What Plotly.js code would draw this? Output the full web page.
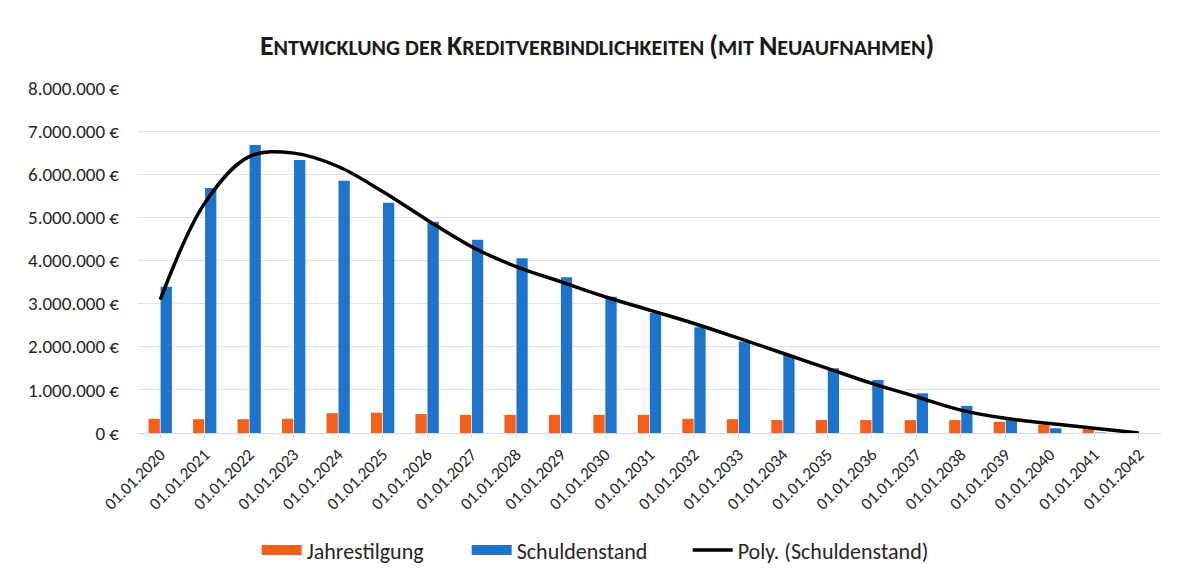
<!DOCTYPE html>
<html>
<head>
<meta charset="utf-8">
<script src="https://cdn.plot.ly/plotly-3.0.1.min.js"></script>
<style>
  html, body { margin: 0; padding: 0; background: #fff; }
  #plot { width: 1187px; height: 584px; }
</style>
</head>
<body>
<div id="plot"></div>
<script>
// categories (x axis)
let dates = ['01.01.2020', '01.01.2021', '01.01.2022', '01.01.2023', '01.01.2024', '01.01.2025',
    '01.01.2026', '01.01.2027', '01.01.2028', '01.01.2029', '01.01.2030', '01.01.2031',
    '01.01.2032', '01.01.2033', '01.01.2034', '01.01.2035', '01.01.2036', '01.01.2037',
    '01.01.2038', '01.01.2039', '01.01.2040', '01.01.2041', '01.01.2042']

// yearly repayment (orange bars)
let jahrestilgung = [330000, 320000, 320000, 330000, 460000, 470000, 440000, 420000, 420000,
    420000, 420000, 420000, 330000, 320000, 300000, 300000, 300000, 300000, 300000, 260000,
    190000, 90000, 10000]

// outstanding debt (blue bars)
let schuldenstand = [3390000, 5680000, 6680000, 6330000, 5850000, 5340000, 4900000, 4480000,
    4050000, 3610000, 3160000, 2780000, 2450000, 2120000, 1810000, 1500000, 1230000, 920000,
    630000, 300000, 110000, 10000, 0]

// polynomial trend line at each category
let polyTrend = [3090000, 5330000, 6410000, 6490000, 6180000, 5600000, 4940000, 4320000,
    3860000, 3510000, 3160000, 2850000, 2540000, 2200000, 1850000, 1500000, 1150000, 840000,
    530000, 340000, 220000, 110000, 0]

// y axis ticks
let yTicks = [0, 1000000, 2000000, 3000000, 4000000, 5000000, 6000000, 7000000, 8000000]
// german number format: 8.000.000 €
let yLabels = yTicks.map(v => String(v).replace(/\B(?=(\d{3})+(?!\d))/g, '.') + ' €')

let fontFamily = 'Carlito, Lato, "Open Sans", sans-serif'
let orange = '#f2601e'
let blue = '#1f74c9'

let traceTilgung = {
    x: dates,
    y: jahrestilgung,
    name: 'Jahrestilgung',
    type: 'bar',
    marker: {color: orange},
    showlegend: false
}

let traceSchulden = {
    x: dates,
    y: schuldenstand,
    name: 'Schuldenstand',
    type: 'bar',
    marker: {color: blue},
    showlegend: false
}

let tracePoly = {
    x: dates,
    y: polyTrend,
    name: 'Poly. (Schuldenstand)',
    type: 'scatter',
    mode: 'lines',
    line: {color: '#000000', width: 3.5, shape: 'spline', smoothing: 1},
    showlegend: false
}

// legend entries with wide flat swatches like the excel legend
let legendTilgung = {x: [null], y: [null], name: 'Jahrestilgung', type: 'scatter', mode: 'lines',
    line: {color: orange, width: 10}, legendwidth: 155}
let legendSchulden = {x: [null], y: [null], name: 'Schuldenstand', type: 'scatter', mode: 'lines',
    line: {color: blue, width: 10}, legendwidth: 166}
let legendPoly = {x: [null], y: [null], name: 'Poly. (Schuldenstand)', type: 'scatter', mode: 'lines',
    line: {color: '#000000', width: 3.5}}

let data = [traceTilgung, traceSchulden, tracePoly, legendTilgung, legendSchulden, legendPoly]

// small caps title done by hand with spans
let s = t => "<span style='font-size:22px'>" + t + "</span>"
let titleText = 'E' + s('NTWICKLUNG DER ') + 'K' + s('REDITVERBINDLICHKEITEN ') + '(' +
    s('MIT ') + 'N' + s('EUAUFNAHMEN') + ')'

let layout = {
    width: 1187,
    height: 584,
    paper_bgcolor: '#ffffff',
    plot_bgcolor: '#ffffff',
    font: {family: fontFamily, color: '#262626'},
    title: {
        text: titleText,
        font: {family: fontFamily, size: 28, color: '#1a1a1a', weight: 'bold'},
        x: 0.503,
        xanchor: 'center',
        y: 0.923,
        yanchor: 'middle'
    },
    margin: {l: 138, r: 26, t: 88, b: 151},
    barmode: 'group',
    bargap: 0.46,
    bargroupgap: 0.06,
    xaxis: {
        type: 'category',
        categoryorder: 'array',
        categoryarray: dates,
        tickangle: -45,
        tickfont: {size: 17, color: '#262626'},
        showgrid: false,
        showline: true,
        linecolor: '#d9d9d9',
        linewidth: 1,
        ticks: 'outside',
        ticklen: 4,
        tickcolor: '#d9d9d9'
    },
    yaxis: {
        range: [0, 8000000],
        tickmode: 'array',
        tickvals: yTicks,
        ticktext: yLabels,
        tickfont: {size: 19, color: '#262626'},
        showgrid: true,
        gridcolor: '#e3e3e3',
        gridwidth: 1,
        zeroline: false,
        showline: false,
        ticks: '',
        ticklabelstandoff: 18
    },
    legend: {
        orientation: 'h',
        x: 0.116,
        xanchor: 'left',
        y: -0.34,
        yanchor: 'middle',
        font: {size: 22, color: '#262626'},
        traceorder: 'normal',
        itemwidth: 40
    },
    showlegend: true
}

Plotly.newPlot('plot', data, layout, {staticPlot: true})
</script>
</body>
</html>
